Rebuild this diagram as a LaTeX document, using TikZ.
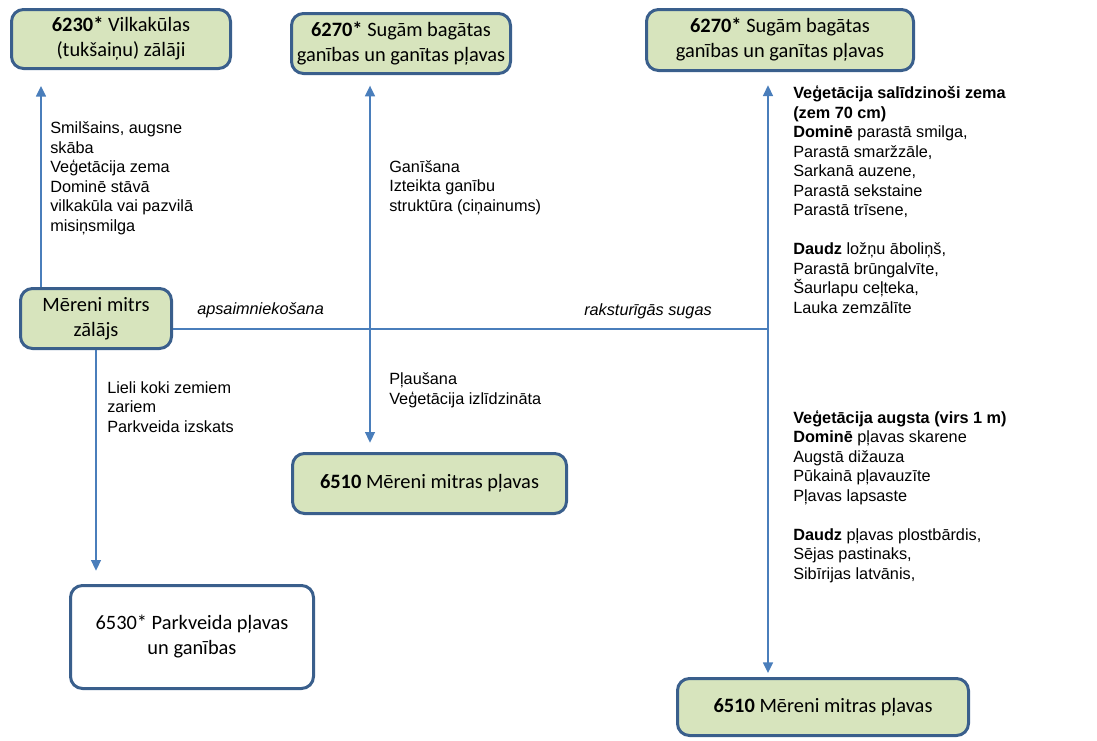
\documentclass[tikz,border=0pt]{standalone}
\usepackage{fontspec}
\setmainfont{Liberation Sans}
\newfontfamily\boxfont{Carlito}
\usetikzlibrary{arrows.meta}
\definecolor{boxfill}{HTML}{D7E4BD}
\definecolor{boxline}{HTML}{3A5F8C}
\definecolor{linkblue}{HTML}{4A7EBB}
\begin{document}
\begin{tikzpicture}[x=0.75pt,y=-0.75pt,
    habitat/.style={draw=boxline, line width=2.25pt, rounded corners=9pt, fill=boxfill,
      align=center, inner sep=2pt, font=\boxfont\fontsize{15.3}{18.75}\selectfont},
    note/.style={anchor=base west, align=left, inner sep=0pt, font=\fontsize{12.2}{14.6}\selectfont},
    link/.style={draw=linkblue, line width=1.1pt},
    arr/.style={link, -{Triangle[width=7.5pt,length=8pt]}},
    arrs/.style={link, {Triangle[width=7.5pt,length=8pt]}-{Triangle[width=7.5pt,length=8pt]}}]
        \useasboundingbox (0,0) rectangle (1097,740);

        \node[habitat, minimum width=164.25pt, minimum height=44.25pt] (v6230) at (121,39) {\textbf{6230*} Vilkakūlas\\(tukšaiņu) zālāji};
        \node[habitat, minimum width=164.25pt, minimum height=45pt] (v6270a) at (401,43.5) {\textbf{6270*} Sugām bagātas\\ganības un ganītas pļavas};
        \node[habitat, minimum width=200.25pt, minimum height=45.75pt] (v6270b) at (780,40) {\textbf{6270*} Sugām bagātas\\ganības un ganītas pļavas};
        \node[habitat, minimum width=113.25pt, minimum height=45pt] (zalajs) at (96,318.5) {Mēreni mitrs\\zālājs};
        \node[habitat, minimum width=205.5pt, minimum height=45pt] (v6510a) at (429.5,483.5) {\textbf{6510} Mēreni mitras pļavas};
        \node[habitat, fill=white, minimum width=182.25pt, minimum height=77.25pt] (v6530) at (192,637) {6530* Parkveida pļavas\\un ganības};
        \node[habitat, minimum width=218.25pt, minimum height=42.75pt] (v6510b) at (823,707) {\textbf{6510} Mēreni mitras pļavas};

        % columns and row of the connectors
        \coordinate (colA) at (41,0);
        \coordinate (colB) at (370,0);
        \coordinate (colC) at (768,0);
        \coordinate (rowM) at (0,329);

        \draw[arr, shorten >=12pt] (zalajs.north -| colA) -- (v6230.south -| colA);
        \draw[arrs, shorten <=8pt, shorten >=7pt] (v6270a.south -| colB) -- (v6510a.north -| colB);
        \draw[arrs, shorten <=10pt, shorten >=3pt] (v6270b.south -| colC) -- (v6510b.north -| colC);
        \draw[link] (zalajs.east |- rowM) -- (colC |- rowM);
        \draw[arr, shorten >=10pt] (zalajs.south) -- (v6530.north -| zalajs.south);

        % notes: anchored at the baseline of their last line
        \node[note] (soil) at (50,231) {Smilšains, augsne\\skāba\\Veģetācija zema\\Dominē stāvā\\vilkakūla vai pazvilā\\misiņsmilga};
        \node[note] (graze) at (389,211) {Ganīšana\\Izteikta ganību\\struktūra (ciņainums)};
        \node[note, font=\fontsize{12.2}{14.6}\selectfont\itshape] (manage) at (197,314) {apsaimniekošana};
        \node[note, font=\fontsize{12.2}{14.6}\selectfont\itshape] (typical) at (584,315) {raksturīgās sugas};
        \node[note] (mow) at (389,404) {Pļaušana\\Veģetācija izlīdzināta};
        \node[note] (trees) at (107,432) {Lieli koki zemiem\\zariem\\Parkveida izskats};
        \node[note] (lowveg) at (793,313) {\textbf{Veģetācija salīdzinoši zema}\\\textbf{(zem 70 cm)}\\\textbf{Dominē} parastā smilga,\\Parastā smaržzāle,\\Sarkanā auzene,\\Parastā sekstaine\\Parastā trīsene,\\[14.6pt]\textbf{Daudz} ložņu āboliņš,\\Parastā brūngalvīte,\\Šaurlapu ceļteka,\\Lauka zemzālīte};
        \node[note] (highveg) at (793,579) {\textbf{Veģetācija augsta (virs 1 m)}\\\textbf{Dominē} pļavas skarene\\Augstā dižauza\\Pūkainā pļavauzīte\\Pļavas lapsaste\\[14.6pt]\textbf{Daudz} pļavas plostbārdis,\\Sējas pastinaks,\\Sibīrijas latvānis,};
      \end{tikzpicture}
\end{document}
